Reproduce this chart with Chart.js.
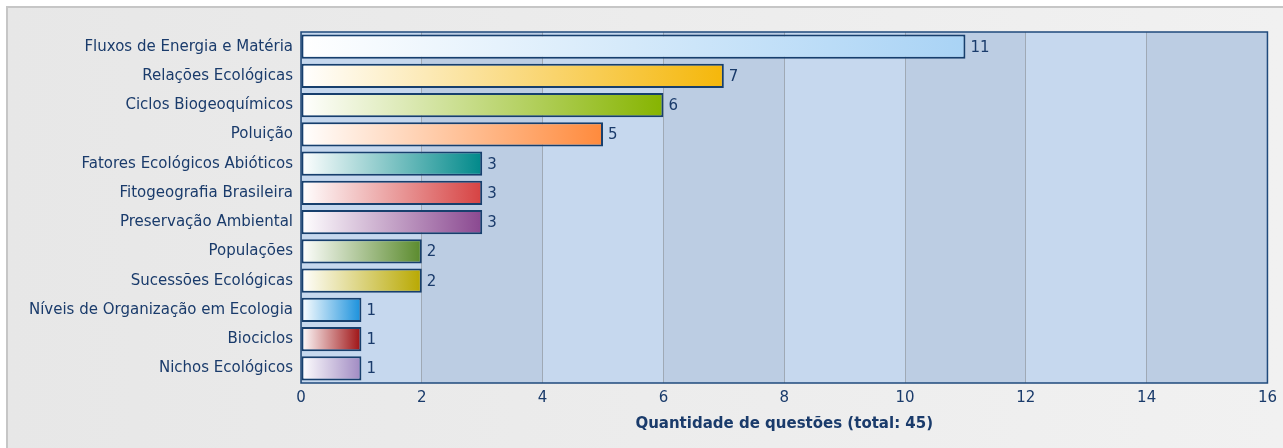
<!DOCTYPE html>
<html>
<head>
<meta charset="utf-8">
<script src="https://cdn.jsdelivr.net/npm/chart.js@4.4.1/dist/chart.umd.min.js"></script>
<style>
  html, body { margin: 0; padding: 0; background: #fff; }
  #wrap { width: 1283px; height: 448px; }
</style>
</head>
<body>
<div id="wrap"><canvas id="chart"></canvas></div>
<script>
const categories = [
  'Fluxos de Energia e Matéria',
  'Relações Ecológicas',
  'Ciclos Biogeoquímicos',
  'Poluição',
  'Fatores Ecológicos Abióticos',
  'Fitogeografia Brasileira',
  'Preservação Ambiental',
  'Populações',
  'Sucessões Ecológicas',
  'Níveis de Organização em Ecologia',
  'Biociclos',
  'Nichos Ecológicos'
]
const questions = [11, 7, 6, 5, 3, 3, 3, 2, 2, 1, 1, 1]
const barColors = [
  '#a9d3f5', '#f5b70a', '#86b400', '#ff8a3c', '#00898a', '#d64242',
  '#8a4890', '#5a8a2c', '#b8a800', '#1890dc', '#9e1012', '#a08ac2'
]
const xTicks = [0, 2, 4, 6, 8, 10, 12, 14, 16]

const textColor = '#1a3b6b'
const font = { family: 'DejaVu Sans', size: 15 }

const gradientFill = (ctx) => {
  const chart = ctx.chart
  const area = chart.chartArea
  if (!area || ctx.type !== 'data') return barColors[ctx.dataIndex]
  const x = chart.scales.x
  const x0 = x.getPixelForValue(0)
  const x1 = x.getPixelForValue(questions[ctx.dataIndex])
  const g = chart.ctx.createLinearGradient(x0, 0, x1, 0)
  g.addColorStop(0, '#ffffff')
  g.addColorStop(1, barColors[ctx.dataIndex])
  return g
}

const panel = {
  id: 'panel',
  beforeDraw(chart) {
    const { ctx, width, height, chartArea: a } = chart
    ctx.save()
    ctx.fillStyle = '#ffffff'
    ctx.fillRect(0, 0, width, height)
    const g = ctx.createLinearGradient(7, 0, width, 0)
    g.addColorStop(0, '#e7e7e7')
    g.addColorStop(1, '#f1f1f1')
    ctx.fillStyle = g
    ctx.fillRect(7, 7, width - 7, height - 7)
    ctx.strokeStyle = '#c6c6c6'
    ctx.lineWidth = 2
    ctx.beginPath()
    ctx.moveTo(7, height)
    ctx.lineTo(7, 7)
    ctx.lineTo(width, 7)
    ctx.stroke()
    // alternating bands
    const x = chart.scales.x
    for (let i = 0; i < xTicks.length - 1; i++) {
      const l = x.getPixelForValue(xTicks[i])
      const r = x.getPixelForValue(xTicks[i + 1])
      ctx.fillStyle = i % 2 === 0 ? '#c6d8ee' : '#bccde3'
      ctx.fillRect(l, a.top, r - l, a.bottom - a.top)
    }
    ctx.restore()
  },
  beforeDatasetsDraw(chart) {
    const { ctx, chartArea: a } = chart
    ctx.save()
    ctx.strokeStyle = '#1f4a7c'
    ctx.lineWidth = 1.5
    ctx.strokeRect(a.left, a.top, a.right - a.left, a.bottom - a.top)
    ctx.restore()
  },
  afterDatasetsDraw(chart) {
    const { ctx } = chart
    const meta = chart.getDatasetMeta(0)
    ctx.save()
    ctx.fillStyle = textColor
    ctx.font = '15px "DejaVu Sans"'
    ctx.textBaseline = 'middle'
    ctx.textAlign = 'left'
    meta.data.forEach((bar, i) => {
      ctx.fillText(String(questions[i]), bar.x + 5, bar.y + 1)
    })
    ctx.restore()
  }
}

new Chart(document.getElementById('chart'), {
  type: 'bar',
  data: {
    labels: categories,
    datasets: [{
      data: questions,
      backgroundColor: gradientFill,
      borderColor: '#173f6d',
      borderWidth: 2,
      borderSkipped: false,
      categoryPercentage: 1,
      barPercentage: 0.83
    }]
  },
  options: {
    indexAxis: 'y',
    responsive: true,
    maintainAspectRatio: false,
    animation: false,
    layout: { padding: { top: 32, right: 15, bottom: 11, left: 0 } },
    plugins: {
      legend: { display: false },
      tooltip: { enabled: false }
    },
    scales: {
      x: {
        min: 0,
        max: 16,
        ticks: { stepSize: 2, color: textColor, font, padding: 6 },
        grid: { color: '#9fa9b5', lineWidth: 1, drawTicks: false },
        border: { display: false },
        title: {
          display: true,
          text: 'Quantidade de questões (total: 45)',
          color: textColor,
          font: { family: 'DejaVu Sans', size: 15, weight: 'bold' },
          padding: { top: 4 }
        },
        afterFit(scale) { scale.height = 54 }
      },
      y: {
        ticks: { color: textColor, font, padding: 8, autoSkip: false },
        grid: { display: false, drawTicks: false },
        border: { display: false },
        afterFit(scale) { scale.width = 301 }
      }
    }
  },
  plugins: [panel]
})
</script>
</body>
</html>
